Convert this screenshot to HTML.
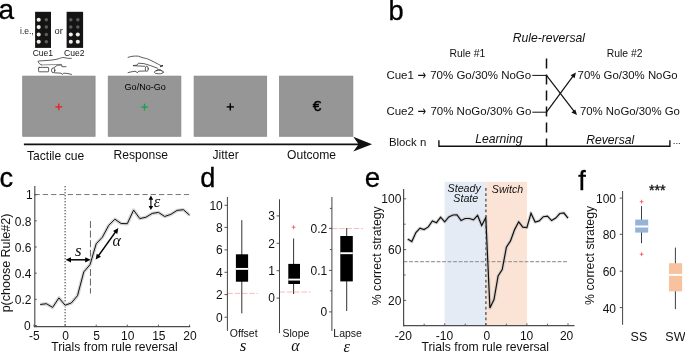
<!DOCTYPE html>
<html lang="en">
<head>
<meta charset="utf-8">
<title>Figure</title>
<style>
html,body{margin:0;padding:0;background:#fff;}
body{width:685px;height:352px;overflow:hidden;}
svg{display:block;font-family:"Liberation Sans", sans-serif;}
</style>
</head>
<body>
<svg width="685" height="352" viewBox="0 0 685 352">
<rect width="685" height="352" fill="#ffffff"/>
<text x="-1.4" y="19.3" font-size="28" text-anchor="start" fill="#000" stroke="#000" stroke-width="0.3" style="">a</text>
<text x="388.4" y="20.2" font-size="27.3" text-anchor="start" fill="#000" stroke="#000" stroke-width="0.3" style="">b</text>
<text x="-0.6" y="187.3" font-size="27.3" text-anchor="start" fill="#000" stroke="#000" stroke-width="0.3" style="">c</text>
<text x="200.3" y="186.6" font-size="27.2" text-anchor="start" fill="#000" stroke="#000" stroke-width="0.3" style="">d</text>
<text x="364.8" y="186.5" font-size="27.8" text-anchor="start" fill="#000" stroke="#000" stroke-width="0.3" style="">e</text>
<text x="578.2" y="189.5" font-size="27.2" text-anchor="start" fill="#000" stroke="#000" stroke-width="0.3" style="">f</text>
<rect x="35.10" y="11.80" width="15.90" height="36.10" fill="#141414" stroke="none" stroke-width="0" />
<circle cx="38.7" cy="19.8" r="2.05" fill="#f4eee6"/>
<circle cx="38.7" cy="27.1" r="2.05" fill="#f4eee6"/>
<circle cx="38.7" cy="34.5" r="2.05" fill="#f4eee6"/>
<circle cx="38.7" cy="41.8" r="2.05" fill="#f4eee6"/>
<circle cx="46.3" cy="19.8" r="1.75" fill="#5c5c5c"/>
<circle cx="46.3" cy="27.1" r="1.75" fill="#5c5c5c"/>
<circle cx="46.3" cy="34.5" r="1.75" fill="#5c5c5c"/>
<circle cx="46.3" cy="41.8" r="1.75" fill="#5c5c5c"/>
<rect x="66.60" y="11.80" width="16.50" height="36.10" fill="#141414" stroke="none" stroke-width="0" />
<circle cx="70.8" cy="19.8" r="1.75" fill="#5c5c5c"/>
<circle cx="77.8" cy="19.8" r="1.75" fill="#5c5c5c"/>
<circle cx="70.8" cy="27.1" r="1.75" fill="#5c5c5c"/>
<circle cx="77.8" cy="27.1" r="1.75" fill="#5c5c5c"/>
<circle cx="70.8" cy="34.5" r="2.05" fill="#f4eee6"/>
<circle cx="77.8" cy="34.5" r="2.05" fill="#f4eee6"/>
<circle cx="70.8" cy="41.8" r="2.05" fill="#f4eee6"/>
<circle cx="77.8" cy="41.8" r="2.05" fill="#f4eee6"/>
<text x="20" y="33.6" font-size="8.5" text-anchor="start" fill="#222"  style="">i.e.,</text>
<text x="54.6" y="33.9" font-size="9.3" text-anchor="start" fill="#222"  style="">or</text>
<text x="32.7" y="56.2" font-size="8.55" text-anchor="start" fill="#111"  style="">Cue1</text>
<text x="64.0" y="56.2" font-size="8.55" text-anchor="start" fill="#111"  style="">Cue2</text>
<g fill="none" stroke="#333" stroke-width="0.8" stroke-linecap="round"><path d="M41.4 64.9 C39 63.8 37.6 62 38.4 61 C44 60.6 52 60.4 57 59.2 C61 58 62.5 57.2 64 57.6 C66.5 58.3 69 58.5 71.3 58.4"/><path d="M41.4 64.9 L61.5 64.4" stroke="#777"/><rect x="38.6" y="67.4" width="10" height="4.4" rx="0.6"/><ellipse cx="53.2" cy="70.3" rx="1.7" ry="2.4"/><path d="M54.1 67.6 L57.2 65.3 L61.5 65 L62 66.7 L66 66.7"/><path d="M54.5 72.8 L61 73.2 L62.4 74.3 L63.8 73.2 C66.5 73.2 69.5 73.6 71.5 74.4"/><path d="M128.1 57.3 C131 56.2 135 55.8 138.5 56.2 C142 57.6 145 58.3 147.4 58.8 C152 60.8 157 63.6 162.3 66.3"/><path d="M160.5 66.6 L162.6 65.4" stroke-width="1.1"/><path d="M133.4 65.5 L137 65.2 L138.4 63.2 L143.9 63.6 C148.5 64.8 153 66.4 157.5 68.2"/><path d="M133.4 65.7 L144.8 66.3"/><ellipse cx="146.8" cy="68.8" rx="1.5" ry="2.6"/><path d="M128.1 72.6 C131 71.8 133.5 71.4 136 71.3 L137.2 72.9 L138.6 71.2 L145.5 71"/><ellipse cx="158.8" cy="72.1" rx="4.5" ry="1.7"/><path d="M156.2 70.8 C156.6 68.8 161 68.8 161.6 70.8"/></g>
<rect x="22.70" y="76.10" width="72.40" height="60.20" fill="#969696" stroke="#858585" stroke-width="0.7" />
<rect x="108.20" y="76.10" width="72.70" height="60.20" fill="#969696" stroke="#858585" stroke-width="0.7" />
<rect x="194.10" y="76.10" width="72.60" height="60.20" fill="#969696" stroke="#858585" stroke-width="0.7" />
<rect x="279.40" y="76.10" width="73.50" height="60.20" fill="#969696" stroke="#858585" stroke-width="0.7" />
<line x1="55.4" y1="106.9" x2="62.199999999999996" y2="106.9" stroke="#ee1c25" stroke-width="1.3" />
<line x1="58.8" y1="103.5" x2="58.8" y2="110.30000000000001" stroke="#ee1c25" stroke-width="1.3" />
<line x1="141.1" y1="107.1" x2="147.9" y2="107.1" stroke="#13a34b" stroke-width="1.3" />
<line x1="144.5" y1="103.69999999999999" x2="144.5" y2="110.5" stroke="#13a34b" stroke-width="1.3" />
<line x1="226.70000000000002" y1="106.9" x2="233.9" y2="106.9" stroke="#000" stroke-width="1.4" />
<line x1="230.3" y1="103.30000000000001" x2="230.3" y2="110.5" stroke="#000" stroke-width="1.4" />
<text x="317.0" y="110.9" font-size="15.3" text-anchor="middle" fill="#000" stroke="#000" stroke-width="0.45" style="">€</text>
<text x="145.2" y="89.9" font-size="9.05" text-anchor="middle" fill="#000"  style="">Go/No-Go</text>
<line x1="23.9" y1="144.3" x2="360" y2="144.3" stroke="#111" stroke-width="1.7" />
<path d="M372 144.2 L353.3 136.7 L358.6 144.2 L353.3 151.5 Z" fill="#111"/>
<text x="27" y="159.5" font-size="12.1" text-anchor="start" fill="#111"  style="">Tactile cue</text>
<text x="113.5" y="158.5" font-size="12.1" text-anchor="start" fill="#111"  style="">Response</text>
<text x="212.5" y="158.5" font-size="12.1" text-anchor="start" fill="#111"  style="">Jitter</text>
<text x="287" y="158.5" font-size="12.1" text-anchor="start" fill="#111"  style="">Outcome</text>
<text x="548.8" y="42.2" font-size="12.17" text-anchor="middle" fill="#111"  style="font-style:italic">Rule-reversal</text>
<text x="467.3" y="56.9" font-size="10.4" text-anchor="middle" fill="#111"  style="">Rule #1</text>
<text x="624.6" y="56.9" font-size="10.4" text-anchor="middle" fill="#111"  style="">Rule #2</text>
<text x="386.4" y="79" font-size="11.5" text-anchor="start" fill="#111"  style="">Cue1</text>
<text x="386.4" y="115" font-size="11.5" text-anchor="start" fill="#111"  style="">Cue2</text>
<text transform="translate(421.9,80.0) scale(0.82,1.16)" font-size="12.5" text-anchor="middle" fill="#111" style="font-family:'DejaVu Sans', sans-serif">→</text>
<text transform="translate(421.9,116.0) scale(0.82,1.16)" font-size="12.5" text-anchor="middle" fill="#111" style="font-family:'DejaVu Sans', sans-serif">→</text>
<text x="531.2" y="79" font-size="11.5" text-anchor="end" fill="#111"  style="">70% Go/30% NoGo</text>
<text x="531.4" y="115" font-size="11.5" text-anchor="end" fill="#111"  style="">70% NoGo/30% Go</text>
<text x="577.6" y="79" font-size="11.4" text-anchor="start" fill="#111"  style="">70% Go/30% NoGo</text>
<text x="579.9" y="115" font-size="11.4" text-anchor="start" fill="#111"  style="">70% NoGo/30% Go</text>
<text x="388.9" y="146.1" font-size="11.4" text-anchor="start" fill="#111"  style="">Block n</text>
<text x="498.8" y="142.6" font-size="12.17" text-anchor="middle" fill="#111"  style="font-style:italic">Learning</text>
<text x="610.2" y="143.7" font-size="12.17" text-anchor="middle" fill="#111"  style="font-style:italic">Reversal</text>
<line x1="546.5" y1="58.6" x2="546.5" y2="146.3" stroke="#111" stroke-width="1.5" stroke-dasharray="10 6"/>
<line x1="532.3" y1="75.4" x2="546.5" y2="75.4" stroke="#111" stroke-width="1.0" />
<line x1="532.3" y1="112.2" x2="546.5" y2="112.2" stroke="#111" stroke-width="1.0" />
<line x1="546.5" y1="75.4" x2="574.5" y2="111.8" stroke="#111" stroke-width="1.2" />
<line x1="546.5" y1="112.2" x2="573.4" y2="75.6" stroke="#111" stroke-width="1.2" />
<path d="M575.9 72.4 L574.6 78.3 L570.6 75.3 Z" fill="#111"/>
<path d="M577.0 114.9 L571.4 112.5 L575.3 109.4 Z" fill="#111"/>
<path d="M438.9 140.2 L438.9 146.3 L669.9 146.3 L669.9 140.2" fill="none" stroke="#111" stroke-width="1.4"/>
<text x="672.8" y="143.8" font-size="9.5" text-anchor="start" fill="#111"  style="">...</text>
<line x1="34.474999999999994" y1="194.55" x2="189" y2="194.55" stroke="#666" stroke-width="0.9" stroke-dasharray="5.3 3"/>
<line x1="65.1" y1="186" x2="65.1" y2="326.6" stroke="#3a3a3a" stroke-width="1.0" stroke-dasharray="1.4 1.6"/>
<line x1="90.45" y1="221" x2="90.45" y2="293.6" stroke="#555" stroke-width="0.9" stroke-dasharray="7 2.6"/>
<polyline points="40.2,304.5 46.4,303.7 52.6,307.4 58.9,297.9 65.1,305.2 71.3,303.0 77.5,295.7 83.8,271.9 90.0,264.7 96.2,243.8 102.4,237.2 108.7,225.4 114.9,219.2 121.1,223.5 127.3,223.7 133.6,210.1 139.8,218.6 146.0,217.2 152.2,213.4 158.5,212.4 164.7,216.5 170.9,214.3 177.1,210.4 183.4,209.7 189.6,215.2" fill="none" stroke="#d6d6d6" stroke-width="3.5" stroke-linejoin="round"/>
<polyline points="40.2,304.5 46.4,303.7 52.6,307.4 58.9,297.9 65.1,305.2 71.3,303.0 77.5,295.7 83.8,271.9 90.0,264.7 96.2,243.8 102.4,237.2 108.7,225.4 114.9,219.2 121.1,223.5 127.3,223.7 133.6,210.1 139.8,218.6 146.0,217.2 152.2,213.4 158.5,212.4 164.7,216.5 170.9,214.3 177.1,210.4 183.4,209.7 189.6,215.2" fill="none" stroke="#111" stroke-width="1.0" stroke-linejoin="miter"/>
<line x1="34.8" y1="186" x2="34.8" y2="327.2" stroke="#4d4d4d" stroke-width="1.15" />
<line x1="34" y1="326.6" x2="190.2" y2="326.6" stroke="#4d4d4d" stroke-width="1.2" />
<line x1="34.6" y1="194.7" x2="36.8" y2="194.7" stroke="#4d4d4d" stroke-width="0.9" />
<text x="32.7" y="199.39999999999998" font-size="12" text-anchor="end" fill="#111"  style="">1</text>
<line x1="34.6" y1="220.85999999999999" x2="36.8" y2="220.85999999999999" stroke="#4d4d4d" stroke-width="0.9" />
<text x="31.5" y="225.55999999999997" font-size="12" text-anchor="end" fill="#111"  style="">0.8</text>
<line x1="34.6" y1="247.01999999999998" x2="36.8" y2="247.01999999999998" stroke="#4d4d4d" stroke-width="0.9" />
<text x="31.5" y="251.71999999999997" font-size="12" text-anchor="end" fill="#111"  style="">0.6</text>
<line x1="34.6" y1="273.18" x2="36.8" y2="273.18" stroke="#4d4d4d" stroke-width="0.9" />
<text x="31.5" y="277.88" font-size="12" text-anchor="end" fill="#111"  style="">0.4</text>
<line x1="34.6" y1="299.34" x2="36.8" y2="299.34" stroke="#4d4d4d" stroke-width="0.9" />
<text x="31.5" y="304.03999999999996" font-size="12" text-anchor="end" fill="#111"  style="">0.2</text>
<line x1="34.6" y1="325.5" x2="36.8" y2="325.5" stroke="#4d4d4d" stroke-width="0.9" />
<text x="30.7" y="330.2" font-size="12" text-anchor="end" fill="#111"  style="">0</text>
<line x1="33.974999999999994" y1="326.6" x2="33.974999999999994" y2="324.6" stroke="#4d4d4d" stroke-width="0.9" />
<text x="34.27499999999999" y="340.0" font-size="12" text-anchor="middle" fill="#111"  style="">-5</text>
<line x1="65.1" y1="326.6" x2="65.1" y2="324.6" stroke="#4d4d4d" stroke-width="0.9" />
<text x="65.5" y="340.0" font-size="12" text-anchor="middle" fill="#111"  style="">0</text>
<line x1="96.225" y1="326.6" x2="96.225" y2="324.6" stroke="#4d4d4d" stroke-width="0.9" />
<text x="96.625" y="340.0" font-size="12" text-anchor="middle" fill="#111"  style="">5</text>
<line x1="127.35" y1="326.6" x2="127.35" y2="324.6" stroke="#4d4d4d" stroke-width="0.9" />
<text x="127.75" y="340.0" font-size="12" text-anchor="middle" fill="#111"  style="">10</text>
<line x1="158.475" y1="326.6" x2="158.475" y2="324.6" stroke="#4d4d4d" stroke-width="0.9" />
<text x="158.875" y="340.0" font-size="12" text-anchor="middle" fill="#111"  style="">15</text>
<line x1="189.6" y1="326.6" x2="189.6" y2="324.6" stroke="#4d4d4d" stroke-width="0.9" />
<text x="190.0" y="340.0" font-size="12" text-anchor="middle" fill="#111"  style="">20</text>
<text x="114.5" y="351.1" font-size="12.1" text-anchor="middle" fill="#111"  style="">Trials from rule reversal</text>
<text transform="translate(9.8,263) rotate(-90)" font-size="12.5" text-anchor="middle" fill="#111">p(choose Rule#2)</text>
<line x1="69.38" y1="259.8" x2="86.82" y2="259.8" stroke="#000" stroke-width="1.5" />
<path d="M65.60 259.80 L71.00 262.40 L71.00 257.20 Z" fill="#000"/>
<path d="M90.60 259.80 L85.20 262.40 L85.20 257.20 Z" fill="#000"/>
<line x1="97.9" y1="256.53" x2="116.1" y2="231.07" stroke="#000" stroke-width="1.5" />
<path d="M95.70 259.60 L100.96 256.72 L96.73 253.70 Z" fill="#000"/>
<path d="M118.30 228.00 L117.27 233.90 L113.04 230.88 Z" fill="#000"/>
<line x1="150.9" y1="198.54" x2="150.9" y2="207.16" stroke="#000" stroke-width="1.1" />
<path d="M150.90 195.60 L148.60 199.80 L153.20 199.80 Z" fill="#000"/>
<path d="M150.90 210.10 L148.60 205.90 L153.20 205.90 Z" fill="#000"/>
<text x="78.2" y="255.6" font-size="17" text-anchor="middle" fill="#111"  style="font-family:'Liberation Serif', 'DejaVu Serif', serif;font-style:italic">s</text>
<text x="116.6" y="246" font-size="16" text-anchor="middle" fill="#111"  style="font-family:'Liberation Serif', 'DejaVu Serif', serif;font-style:italic">α</text>
<text x="157" y="207.2" font-size="16.5" text-anchor="middle" fill="#111"  style="font-family:'Liberation Serif', 'DejaVu Serif', serif;font-style:italic">ε</text>
<line x1="227.4" y1="293.4" x2="258" y2="293.4" stroke="#f5a9a9" stroke-width="0.8" stroke-dasharray="5.5 1.8"/>
<line x1="227.4" y1="197" x2="227.4" y2="330.9" stroke="#444" stroke-width="1.0" />
<line x1="224.5" y1="205.3" x2="227.4" y2="205.3" stroke="#444" stroke-width="0.9" />
<text x="222.8" y="209.60000000000002" font-size="12" text-anchor="end" fill="#111"  style="">10</text>
<line x1="224.5" y1="227.4" x2="227.4" y2="227.4" stroke="#444" stroke-width="0.9" />
<text x="222.8" y="231.70000000000002" font-size="12" text-anchor="end" fill="#111"  style="">8</text>
<line x1="224.5" y1="249.9" x2="227.4" y2="249.9" stroke="#444" stroke-width="0.9" />
<text x="222.8" y="254.20000000000002" font-size="12" text-anchor="end" fill="#111"  style="">6</text>
<line x1="224.5" y1="272.3" x2="227.4" y2="272.3" stroke="#444" stroke-width="0.9" />
<text x="222.8" y="276.6" font-size="12" text-anchor="end" fill="#111"  style="">4</text>
<line x1="224.5" y1="294.6" x2="227.4" y2="294.6" stroke="#444" stroke-width="0.9" />
<text x="222.8" y="298.90000000000003" font-size="12" text-anchor="end" fill="#111"  style="">2</text>
<line x1="224.5" y1="317.2" x2="227.4" y2="317.2" stroke="#444" stroke-width="0.9" />
<text x="222.8" y="321.5" font-size="12" text-anchor="end" fill="#111"  style="">0</text>
<line x1="241.8" y1="220.2" x2="241.8" y2="313.4" stroke="#333" stroke-width="1.0" />
<rect x="235.90" y="254.30" width="12.20" height="27.40" fill="#000" stroke="none" stroke-width="0" />
<line x1="235.9" y1="268.9" x2="248.1" y2="268.9" stroke="#fff" stroke-width="1.9" />
<text x="229.8" y="337.3" font-size="10.5" text-anchor="start" fill="#111"  style="">Offset</text>
<text x="243" y="351.0" font-size="17" text-anchor="middle" fill="#111"  style="font-family:'Liberation Serif', 'DejaVu Serif', serif;font-style:italic">s</text>
<line x1="279.5" y1="292.0" x2="310.6" y2="292.0" stroke="#f5a9a9" stroke-width="0.8" stroke-dasharray="5.5 1.8"/>
<line x1="279.5" y1="199.3" x2="279.5" y2="333.1" stroke="#444" stroke-width="1.0" />
<line x1="276.6" y1="215.9" x2="279.5" y2="215.9" stroke="#444" stroke-width="0.9" />
<text x="274.9" y="220.20000000000002" font-size="12" text-anchor="end" fill="#111"  style="">3</text>
<line x1="276.6" y1="243.3" x2="279.5" y2="243.3" stroke="#444" stroke-width="0.9" />
<text x="274.9" y="247.60000000000002" font-size="12" text-anchor="end" fill="#111"  style="">2</text>
<line x1="276.6" y1="270.7" x2="279.5" y2="270.7" stroke="#444" stroke-width="0.9" />
<text x="274.9" y="275.0" font-size="12" text-anchor="end" fill="#111"  style="">1</text>
<line x1="276.6" y1="298.1" x2="279.5" y2="298.1" stroke="#444" stroke-width="0.9" />
<text x="274.9" y="302.40000000000003" font-size="12" text-anchor="end" fill="#111"  style="">0</text>
<line x1="293.6" y1="238.5" x2="293.6" y2="294" stroke="#333" stroke-width="1.0" />
<rect x="288.30" y="263.90" width="11.70" height="20.10" fill="#000" stroke="none" stroke-width="0" />
<line x1="288.3" y1="279.6" x2="300" y2="279.6" stroke="#fff" stroke-width="1.9" />
<line x1="291.70000000000005" y1="227.2" x2="295.5" y2="227.2" stroke="#f03540" stroke-width="0.7" />
<line x1="293.6" y1="225.29999999999998" x2="293.6" y2="229.1" stroke="#f03540" stroke-width="0.7" />
<text x="282.5" y="337.3" font-size="10.5" text-anchor="start" fill="#111"  style="">Slope</text>
<text x="295.4" y="351.0" font-size="16" text-anchor="middle" fill="#111"  style="font-family:'Liberation Serif', 'DejaVu Serif', serif;font-style:italic">α</text>
<line x1="331.9" y1="228.6" x2="363" y2="228.6" stroke="#f5a9a9" stroke-width="0.8" stroke-dasharray="5.5 1.8"/>
<line x1="331.9" y1="197" x2="331.9" y2="330.9" stroke="#444" stroke-width="1.0" />
<line x1="329.0" y1="228.4" x2="331.9" y2="228.4" stroke="#444" stroke-width="0.9" />
<text x="327.29999999999995" y="232.70000000000002" font-size="12" text-anchor="end" fill="#111"  style="">0.2</text>
<line x1="329.0" y1="270.4" x2="331.9" y2="270.4" stroke="#444" stroke-width="0.9" />
<text x="327.29999999999995" y="274.7" font-size="12" text-anchor="end" fill="#111"  style="">0.1</text>
<line x1="329.0" y1="311.9" x2="331.9" y2="311.9" stroke="#444" stroke-width="0.9" />
<text x="327.29999999999995" y="316.2" font-size="12" text-anchor="end" fill="#111"  style="">0</text>
<line x1="329.9" y1="208.4" x2="331.9" y2="208.4" stroke="#444" stroke-width="0.9" />
<line x1="329.9" y1="249.5" x2="331.9" y2="249.5" stroke="#444" stroke-width="0.9" />
<line x1="329.9" y1="290.8" x2="331.9" y2="290.8" stroke="#444" stroke-width="0.9" />
<line x1="346.7" y1="228" x2="346.7" y2="311" stroke="#333" stroke-width="1.0" />
<rect x="340.30" y="236.00" width="12.50" height="45.40" fill="#000" stroke="none" stroke-width="0" />
<line x1="340.3" y1="253.2" x2="352.8" y2="253.2" stroke="#fff" stroke-width="1.9" />
<text x="333.3" y="337.3" font-size="10.5" text-anchor="start" fill="#111"  style="">Lapse</text>
<text x="346.7" y="351.6" font-size="16.5" text-anchor="middle" fill="#111"  style="font-family:'Liberation Serif', 'DejaVu Serif', serif;font-style:italic">ε</text>
<rect x="444.60" y="181.80" width="41.50" height="144.00" fill="#e4ebf5" stroke="none" stroke-width="0" />
<rect x="486.10" y="181.80" width="40.90" height="144.00" fill="#fbe4d6" stroke="none" stroke-width="0" />
<line x1="403.6" y1="261.6" x2="568.3" y2="261.6" stroke="#9c9c9c" stroke-width="1.05" stroke-dasharray="3.8 1.7"/>
<line x1="485.9" y1="187.9" x2="485.9" y2="325.5" stroke="#444" stroke-width="1.2" stroke-dasharray="2.8 2.6"/>
<text x="464.2" y="192.3" font-size="10.7" text-anchor="middle" fill="#111"  style="font-style:italic">Steady</text>
<text x="465.8" y="201.8" font-size="10.7" text-anchor="middle" fill="#111"  style="font-style:italic">State</text>
<text x="507.5" y="193" font-size="10.63" text-anchor="middle" fill="#111"  style="font-style:italic">Switch</text>
<polyline points="407.7,239.1 411.8,241.6 415.9,232.6 420.0,228.2 424.1,229.6 428.3,226.9 432.4,220.9 436.5,222.7 440.6,217.2 444.7,221.8 448.8,216.9 452.9,215.0 457.0,214.8 461.1,220.5 465.2,218.5 469.4,218.5 473.5,219.9 477.6,215.4 481.7,225.5 485.8,217.5 489.9,307.9 494.0,299.6 498.1,275.9 502.2,269.6 506.4,247.2 510.5,240.9 514.6,229.6 518.7,221.8 522.8,227.1 526.9,227.6 531.0,213.3 535.1,222.0 539.2,220.9 543.3,216.7 547.5,216.2 551.6,220.6 555.7,218.1 559.8,213.5 563.9,213.0 568.0,218.1" fill="none" stroke="#b9b9b9" stroke-opacity="0.55" stroke-width="3.4" stroke-linejoin="round"/>
<polyline points="407.7,239.1 411.8,241.6 415.9,232.6 420.0,228.2 424.1,229.6 428.3,226.9 432.4,220.9 436.5,222.7 440.6,217.2 444.7,221.8 448.8,216.9 452.9,215.0 457.0,214.8 461.1,220.5 465.2,218.5 469.4,218.5 473.5,219.9 477.6,215.4 481.7,225.5 485.8,217.5 489.9,307.9 494.0,299.6 498.1,275.9 502.2,269.6 506.4,247.2 510.5,240.9 514.6,229.6 518.7,221.8 522.8,227.1 526.9,227.6 531.0,213.3 535.1,222.0 539.2,220.9 543.3,216.7 547.5,216.2 551.6,220.6 555.7,218.1 559.8,213.5 563.9,213.0 568.0,218.1" fill="none" stroke="#111" stroke-width="1.2" stroke-linejoin="miter"/>
<line x1="403.6" y1="189.0" x2="403.6" y2="326.3" stroke="#4d4d4d" stroke-width="1.2" />
<line x1="403" y1="325.7" x2="574.5" y2="325.7" stroke="#4d4d4d" stroke-width="1.2" />
<line x1="403.6" y1="198.8" x2="406.2" y2="198.8" stroke="#4d4d4d" stroke-width="0.9" />
<text x="401.4" y="203.4" font-size="12" text-anchor="end" fill="#111"  style="">100</text>
<line x1="403.6" y1="249.60000000000002" x2="406.2" y2="249.60000000000002" stroke="#4d4d4d" stroke-width="0.9" />
<text x="401.4" y="254.20000000000002" font-size="12" text-anchor="end" fill="#111"  style="">60</text>
<line x1="403.6" y1="300.4" x2="406.2" y2="300.4" stroke="#4d4d4d" stroke-width="0.9" />
<text x="401.4" y="305.0" font-size="12" text-anchor="end" fill="#111"  style="">20</text>
<line x1="403.6" y1="224.20000000000002" x2="405.6" y2="224.20000000000002" stroke="#4d4d4d" stroke-width="0.9" />
<line x1="403.6" y1="275.0" x2="405.6" y2="275.0" stroke="#4d4d4d" stroke-width="0.9" />
<line x1="403.6" y1="325.7" x2="403.6" y2="323.3" stroke="#4d4d4d" stroke-width="0.9" />
<text x="403.3" y="339.8" font-size="12" text-anchor="middle" fill="#111"  style="">-20</text>
<line x1="444.7" y1="325.7" x2="444.7" y2="323.3" stroke="#4d4d4d" stroke-width="0.9" />
<text x="444.5" y="339.8" font-size="12" text-anchor="middle" fill="#111"  style="">-10</text>
<line x1="485.8" y1="325.7" x2="485.8" y2="323.3" stroke="#4d4d4d" stroke-width="0.9" />
<text x="486.8" y="339.8" font-size="12" text-anchor="middle" fill="#111"  style="">0</text>
<line x1="526.9" y1="325.7" x2="526.9" y2="323.3" stroke="#4d4d4d" stroke-width="0.9" />
<text x="526.6" y="339.8" font-size="12" text-anchor="middle" fill="#111"  style="">10</text>
<line x1="568.0" y1="325.7" x2="568.0" y2="323.3" stroke="#4d4d4d" stroke-width="0.9" />
<text x="566.6" y="339.8" font-size="12" text-anchor="middle" fill="#111"  style="">20</text>
<line x1="424.15" y1="325.7" x2="424.15" y2="323.7" stroke="#4d4d4d" stroke-width="0.9" />
<line x1="465.25" y1="325.7" x2="465.25" y2="323.7" stroke="#4d4d4d" stroke-width="0.9" />
<line x1="506.35" y1="325.7" x2="506.35" y2="323.7" stroke="#4d4d4d" stroke-width="0.9" />
<line x1="547.45" y1="325.7" x2="547.45" y2="323.7" stroke="#4d4d4d" stroke-width="0.9" />
<text x="485.3" y="351.0" font-size="12.2" text-anchor="middle" fill="#111"  style="">Trials from rule reversal</text>
<text transform="translate(381.3,255.8) rotate(-90)" font-size="12.3" text-anchor="middle" fill="#111">% correct strategy</text>
<line x1="622.6" y1="191" x2="622.6" y2="324.8" stroke="#444" stroke-width="1.0" />
<line x1="619.7" y1="198.1" x2="622.6" y2="198.1" stroke="#444" stroke-width="0.9" />
<text x="616" y="203.0" font-size="12" text-anchor="end" fill="#111"  style="">100</text>
<line x1="619.7" y1="234.3" x2="622.6" y2="234.3" stroke="#444" stroke-width="0.9" />
<text x="616" y="239.20000000000002" font-size="12" text-anchor="end" fill="#111"  style="">80</text>
<line x1="619.7" y1="271.2" x2="622.6" y2="271.2" stroke="#444" stroke-width="0.9" />
<text x="616" y="276.09999999999997" font-size="12" text-anchor="end" fill="#111"  style="">60</text>
<line x1="619.7" y1="307.6" x2="622.6" y2="307.6" stroke="#444" stroke-width="0.9" />
<text x="616" y="312.5" font-size="12" text-anchor="end" fill="#111"  style="">40</text>
<text transform="translate(593.7,255.4) rotate(-90)" font-size="12.3" text-anchor="middle" fill="#111">% correct strategy</text>
<line x1="641.5" y1="206.1" x2="641.5" y2="243.2" stroke="#3a3f4a" stroke-width="1.0" />
<rect x="635.20" y="219.60" width="13.00" height="13.00" fill="#95b3d7" stroke="none" stroke-width="0" />
<line x1="635.2" y1="226.5" x2="648.2" y2="226.5" stroke="#fff" stroke-width="2.0" />
<line x1="639.7" y1="201.7" x2="643.5" y2="201.7" stroke="#f03540" stroke-width="0.7" />
<line x1="641.6" y1="199.79999999999998" x2="641.6" y2="203.6" stroke="#f03540" stroke-width="0.7" />
<line x1="639.7" y1="254.2" x2="643.5" y2="254.2" stroke="#f03540" stroke-width="0.7" />
<line x1="641.6" y1="252.29999999999998" x2="641.6" y2="256.09999999999997" stroke="#f03540" stroke-width="0.7" />
<line x1="675.4" y1="247.6" x2="675.4" y2="309.1" stroke="#3a3f4a" stroke-width="1.0" />
<rect x="669.00" y="263.20" width="13.10" height="28.20" fill="#f7c29d" stroke="none" stroke-width="0" />
<line x1="669" y1="274.9" x2="682.1" y2="274.9" stroke="#fff" stroke-width="2.0" />
<text x="657.3" y="194.6" font-size="14.3" text-anchor="middle" fill="#111" stroke="#111" stroke-width="0.35" style="">***</text>
<text x="638.9" y="341.3" font-size="12.5" text-anchor="middle" fill="#111"  style="">SS</text>
<text x="675.4" y="341.3" font-size="12.5" text-anchor="middle" fill="#111"  style="">SW</text>
</svg>
</body>
</html>
